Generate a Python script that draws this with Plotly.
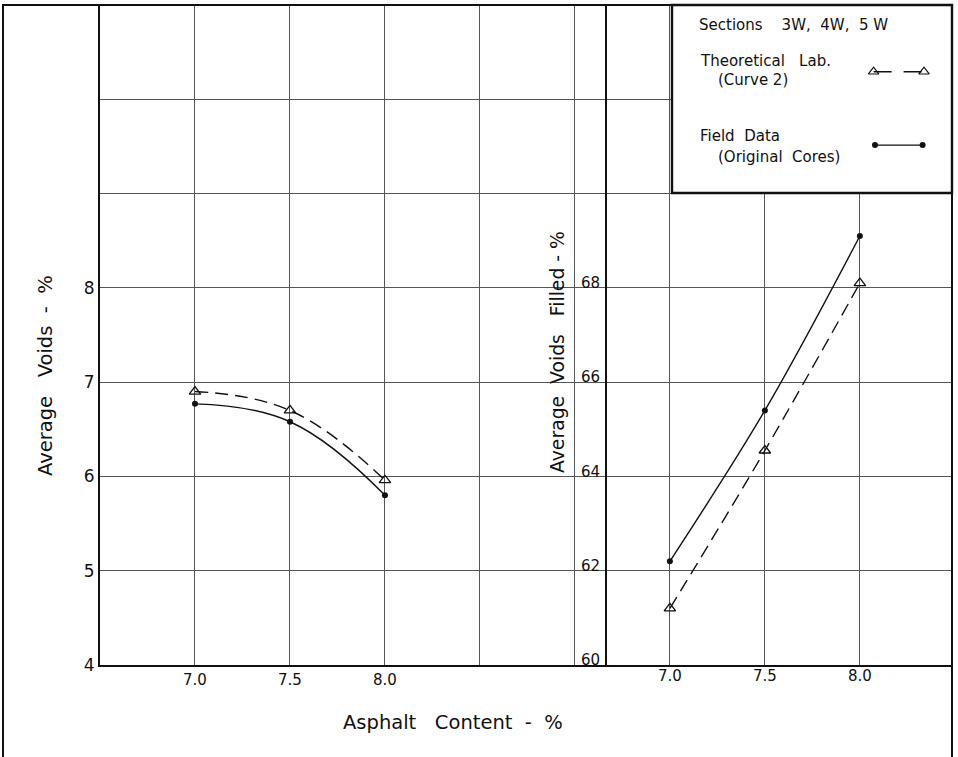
import plotly.graph_objects as go

# ---------------- data ----------------
asphalt = [7.0, 7.5, 8.0]

voids_theoretical = [6.90, 6.70, 5.96]
voids_field = [6.77, 6.58, 5.80]

vfa_theoretical = [61.2, 64.55, 68.1]
vfa_field = [62.2, 65.4, 69.1]

# grid / tick definitions
x_grid_vals = [6.5, 7.0, 7.5, 8.0, 8.5, 9.0, 9.5, 10.0, 10.5]
x_grid_text = ["", "7.0", "7.5", "8.0", "", "", "", "", ""]
y_grid_vals = [4, 5, 6, 7, 8, 9, 10, 11]
y_grid_text = ["4", "5", "6", "7", "8", "", "", ""]
y2_tick_vals = [60, 62, 64, 66, 68]
y2_tick_text = ["60", "62", "64", "66", "68"]
x2_tick_vals = [7.0, 7.5, 8.0]
x2_tick_text = ["7.0", "7.5", "8.0"]

FONT = "DejaVu Sans"
BLACK = "#111111"
GRID = "#555555"

W, H = 958, 757
ML, MR, MT, MB = 100, 6, 5, 92
PW, PH = W - ML - MR, H - MT - MB


def px(xp):
    return (xp - ML) / PW


def py(yp):
    return (H - MB - yp) / PH


fig = go.Figure()

# left panel: Average Voids
fig.add_trace(go.Scatter(
    x=asphalt, y=voids_theoretical, mode="lines+markers", line_shape="spline",
    line=dict(color=BLACK, width=1.4, dash="13px,7px", smoothing=1.2),
    marker=dict(symbol="triangle-up-open", size=10, color=BLACK, line=dict(width=1.3)),
    xaxis="x", yaxis="y", showlegend=False))
fig.add_trace(go.Scatter(
    x=asphalt, y=voids_field, mode="lines+markers", line_shape="spline",
    line=dict(color=BLACK, width=1.4, smoothing=1.2),
    marker=dict(symbol="circle", size=6, color=BLACK),
    xaxis="x", yaxis="y", showlegend=False))

# right panel: Average Voids Filled
fig.add_trace(go.Scatter(
    x=asphalt, y=vfa_theoretical, mode="lines+markers", line_shape="spline",
    line=dict(color=BLACK, width=1.4, dash="13px,7px"),
    marker=dict(symbol="triangle-up-open", size=10, color=BLACK, line=dict(width=1.3)),
    xaxis="x2", yaxis="y2", showlegend=False))
fig.add_trace(go.Scatter(
    x=asphalt, y=vfa_field, mode="lines+markers", line_shape="spline",
    line=dict(color=BLACK, width=1.4),
    marker=dict(symbol="circle", size=6, color=BLACK),
    xaxis="x2", yaxis="y2", showlegend=False))

# legend samples (drawn on a hidden axis pair covering the legend box)
box_x0, box_x1, box_y0, box_y1 = px(672), px(952), py(193), py(5)
fig.add_trace(go.Scatter(
    x=[0.72, 0.90], y=[0.645, 0.645], mode="lines+markers",
    line=dict(color=BLACK, width=1.3, dash="18px,12px"),
    marker=dict(symbol="triangle-up-open", size=9, color=BLACK, line=dict(width=1.2)),
    xaxis="x3", yaxis="y3", showlegend=False, hoverinfo="skip"))
fig.add_trace(go.Scatter(
    x=[0.725, 0.895], y=[0.255, 0.255], mode="lines+markers",
    line=dict(color=BLACK, width=1.3),
    marker=dict(symbol="circle", size=6, color=BLACK),
    xaxis="x3", yaxis="y3", showlegend=False, hoverinfo="skip"))

xr = [6.5, 10.985]
fig.update_layout(
    width=W, height=H,
    margin=dict(l=ML, r=MR, t=MT, b=MB),
    paper_bgcolor="white", plot_bgcolor="white",
    font=dict(family=FONT, color=BLACK),
    xaxis=dict(domain=[0, 1], range=xr, tickvals=x_grid_vals, ticktext=x_grid_text,
               showgrid=True, gridcolor=GRID, gridwidth=1, zeroline=False,
               showline=True, linecolor=BLACK, linewidth=2, ticks="",
               tickfont=dict(size=15, family=FONT), ticklabelstandoff=0),
    xaxis2=dict(overlaying="x", anchor="y", side="bottom", range=[xr[0] - 2.5, xr[1] - 2.5],
                tickvals=x2_tick_vals, ticktext=x2_tick_text, showgrid=False, zeroline=False,
                showline=False, ticks="", tickfont=dict(size=15, family=FONT), ticklabelstandoff=0),
    yaxis=dict(domain=[0, 1], range=[4, 11], tickvals=y_grid_vals, ticktext=y_grid_text,
               showgrid=True, gridcolor=GRID, gridwidth=1, zeroline=False,
               showline=True, linecolor=BLACK, linewidth=2, ticks="",
               tickfont=dict(size=17, family=FONT), ticklabelstandoff=0),
    yaxis2=dict(overlaying="y", anchor="free", position=px(606), side="left",
                range=[60, 74], tickvals=y2_tick_vals, ticktext=y2_tick_text,
                showgrid=False, zeroline=False, showline=True, linecolor=BLACK, linewidth=2,
                ticks="", tickfont=dict(size=15, family=FONT), ticklabelstandoff=2,
                ticklabelshift=-5),
    xaxis3=dict(domain=[box_x0, box_x1], range=[0, 1], anchor="y3", visible=False),
    yaxis3=dict(domain=[box_y0, box_y1], range=[0, 1], anchor="x3", visible=False),
)

shapes = [
    # legend box fill (hides the grid) and border
    dict(type="rect", xref="paper", yref="paper", x0=box_x0, x1=box_x1, y0=box_y0, y1=box_y1,
         fillcolor="white", line=dict(width=0), layer="between"),
    dict(type="rect", xref="paper", yref="paper", x0=box_x0, x1=box_x1, y0=box_y0, y1=box_y1,
         fillcolor="rgba(0,0,0,0)", line=dict(color=BLACK, width=2.4), layer="above"),
    # outer frame
    dict(type="line", xref="paper", yref="paper", x0=px(3), x1=px(3), y0=py(4), y1=py(760),
         line=dict(color=BLACK, width=2)),
    dict(type="line", xref="paper", yref="paper", x0=px(3), x1=px(952), y0=py(5), y1=py(5),
         line=dict(color=BLACK, width=2)),
    dict(type="line", xref="paper", yref="paper", x0=px(952), x1=px(952), y0=py(4), y1=py(760),
         line=dict(color=BLACK, width=2)),
]
fig.update_layout(shapes=shapes)

NB = "\u00a0"
ann = [
    dict(text=f"Average{NB}{NB}{NB}Voids{NB}{NB}-{NB}{NB}%", x=px(45), y=py(376), textangle=-90, size=19.5),
    dict(text=f"Average{NB}{NB}Voids{NB}{NB}{NB}Filled{NB}-{NB}%", x=px(557), y=py(352), textangle=-90, size=18.8),
    dict(text=f"Asphalt{NB}{NB}{NB}Content{NB}{NB}-{NB}{NB}%", x=px(453), y=py(722), textangle=0, size=19.5),
]
annotations = []
for a in ann:
    annotations.append(dict(text=a["text"], x=a["x"], y=a["y"], xref="paper", yref="paper",
                            textangle=a["textangle"], showarrow=False, xanchor="center",
                            yanchor="middle", font=dict(size=a["size"], family=FONT, color=BLACK)))

legend_texts = [
    (f"Sections{NB}{NB}{NB}{NB}3W,{NB}{NB}4W,{NB}{NB}5{NB}W", 697, 25),
    (f"Theoretical{NB}{NB}{NB}Lab.", 698, 61),
    (f"(Curve{NB}2)", 716, 80),
    (f"Field{NB}{NB}Data", 698, 136),
    (f"(Original{NB}{NB}Cores)", 716, 157),
]
for t, xx, yy in legend_texts:
    annotations.append(dict(text=t, x=px(xx), y=py(yy), xref="paper", yref="paper",
                            showarrow=False, xanchor="left", yanchor="middle",
                            font=dict(size=15, family=FONT, color=BLACK)))
fig.update_layout(annotations=annotations)

fig.write_html("out.html", config={"displayModeBar": False, "staticPlot": True},
               post_script="document.body.style.margin='0';document.body.style.overflow='hidden';")
